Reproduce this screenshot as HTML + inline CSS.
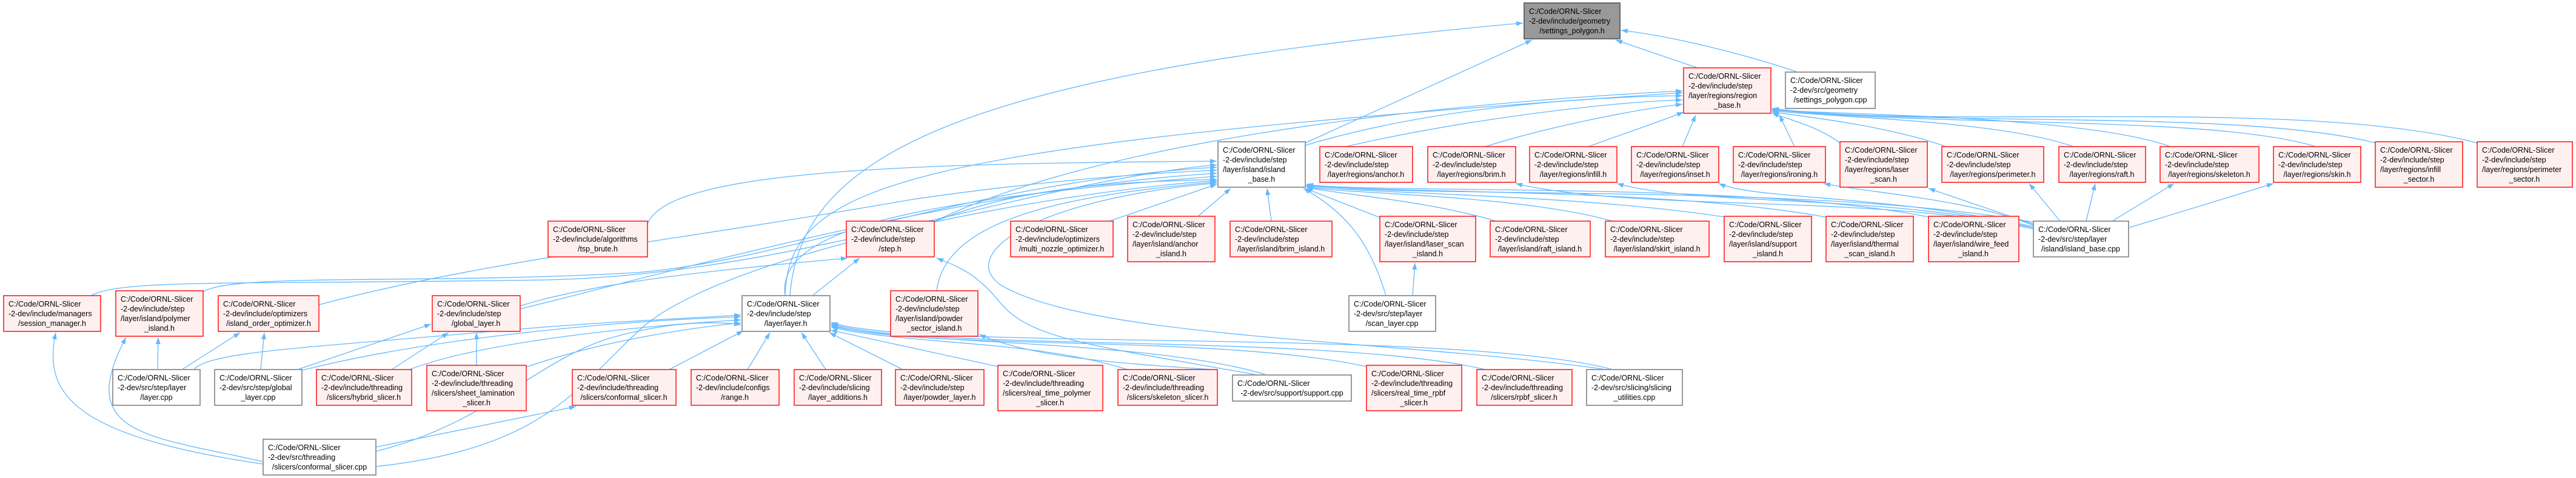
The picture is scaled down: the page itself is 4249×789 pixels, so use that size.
<!DOCTYPE html>
<html><head><meta charset="utf-8"><style>
html,body{margin:0;padding:0;background:#fff}
svg{display:block}
.t{font:12.5px "Liberation Sans",sans-serif;fill:#000}
.r{fill:#fff0f0;stroke:#ff2020;stroke-width:1.6}
.w{fill:#fff;stroke:#999;stroke-width:2}
.g{fill:#999;stroke:#666;stroke-width:2}
.e{fill:none;stroke:#63b8ff;stroke-width:1.3}
</style></head><body>
<svg width="4249" height="789" viewBox="0 0 4249 789" xmlns="http://www.w3.org/2000/svg">
<defs><marker id="a" markerWidth="11" markerHeight="8" refX="11" refY="4" orient="auto" markerUnits="userSpaceOnUse"><path d="M0,0 L11,4 L0,8z" fill="#63b8ff"/></marker></defs>
<g class="e" marker-end="url(#a)">
<!-- to settings_polygon.h -->
<path d="M2153,236 L2527,66"/>
<path d="M2800,112 L2665,66"/>
<path d="M2965,119 C2880,90 2760,60 2674,50"/>
<path d="M1303,488 C1320,250 1600,120 2512,38"/>
<!-- to region_base -->
<path d="M2153,240 C2350,180 2600,160 2775,158"/>
<path d="M1295,488 C1300,300 1500,240 2775,153"/>
<path d="M1540,366 C1800,240 2300,175 2775,150"/>
<path d="M2220,242 C2400,200 2650,168 2775,165"/>
<path d="M2450,242 C2550,210 2700,180 2775,172"/>
<path d="M2620,242 C2680,220 2740,200 2777,185"/>
<path d="M2775,242 L2797,190"/>
<path d="M2960,242 L2935,190"/>
<path d="M3035,236 C3000,210 2960,200 2923,187"/>
<path d="M3210,242 C3120,210 3000,195 2923,185"/>
<path d="M3420,242 C3300,200 3050,195 2923,183"/>
<path d="M3580,242 C3450,195 3100,190 2923,182"/>
<path d="M3820,242 C3650,190 3200,210 2923,181"/>
<path d="M3918,236 C3700,180 3200,210 2923,180"/>
<path d="M4086,236 C3800,160 3200,215 2923,179"/>
<!-- to island_base.h -->
<path d="M1068,370 C1100,280 1500,270 2007,266"/>
<path d="M150,488 C200,460 400,470 900,462 C1300,455 1700,300 2007,272"/>
<path d="M335,482 C380,450 700,470 1050,450 C1300,430 1600,300 2007,276"/>
<path d="M526,503 C800,430 1100,400 1500,330 C1700,300 1900,285 2007,281"/>
<path d="M858,510 C1100,450 1600,310 2007,286"/>
<path d="M1295,488 C1280,380 1500,330 2007,291"/>
<path d="M1541,366 C1700,300 1900,300 2007,296"/>
<path d="M1545,480 C1560,350 1800,320 2007,300"/>
<path d="M1830,365 L2007,304"/>
<path d="M1976,357 L2030,311"/>
<path d="M2097,365 L2090,311"/>
<path d="M2276,359 L2153,311"/>
<path d="M2468,365 C2350,330 2200,320 2155,309"/>
<path d="M2660,365 C2500,320 2200,320 2155,308"/>
<path d="M2850,359 C2600,320 2250,320 2155,307"/>
<path d="M3015,359 C2750,310 2300,320 2155,306"/>
<path d="M3185,359 C2900,300 2300,320 2155,305"/>
<path d="M3360,368 C3000,300 2300,330 2155,304"/>
<path d="M2286,488 C2260,400 2220,350 2150,311"/>
<path d="M2650,610 C2300,560 1800,560 1650,470 C1580,420 1700,330 2007,302"/>
<path d="M620,770 C900,740 950,640 1060,540 C1200,420 1700,320 2007,298"/>
<!-- to layer.h -->
<path d="M318,612 C340,580 500,575 800,548 C1000,530 1150,525 1222,520"/>
<path d="M495,612 C700,560 1000,530 1222,523"/>
<path d="M670,612 C800,560 1100,535 1222,528"/>
<path d="M868,606 C1000,560 1150,540 1222,533"/>
<path d="M1100,612 L1226,546"/>
<path d="M1233,610 L1270,549"/>
<path d="M1362,610 L1322,549"/>
<path d="M1489,610 L1368,549"/>
<path d="M1646,605 L1370,545"/>
<path d="M1860,610 C1700,560 1500,570 1371,540"/>
<path d="M2090,619 C1900,560 1500,570 1371,538"/>
<path d="M2254,605 C2000,550 1500,580 1371,536"/>
<path d="M2450,610 C2200,550 1500,580 1371,534"/>
<path d="M2660,610 C2400,540 1500,580 1371,532"/>
<path d="M620,745 C800,700 880,600 1000,560 C1100,530 1180,530 1222,536"/>
<!-- to step.h -->
<path d="M1340,488 L1418,426"/>
<path d="M858,505 C1000,460 1250,440 1398,426"/>
<path d="M2075,619 C1800,570 1700,560 1650,500 C1610,450 1580,440 1545,426"/>
<!-- to global_layer.h -->
<path d="M485,612 L711,535"/>
<path d="M643,612 L740,549"/>
<path d="M786,603 L786,549"/>
<!-- lower left -->
<path d="M300,610 L396,549"/>
<path d="M430,610 L436,549"/>
<path d="M260,610 L261,557"/>
<path d="M434,762 C250,720 120,720 208,557"/>
<path d="M434,766 C120,720 70,650 92,549"/>
<path d="M620,738 L950,671"/>
<path d="M2330,488 L2334,434"/>
<path d="M2000,610 C1850,600 1700,590 1615,552"/>
<!-- island_base.cpp -->
<path d="M3354,370 L3181,311"/>
<path d="M3398,365 L3347,303"/>
<path d="M3441,365 L3456,303"/>
<path d="M3484,365 L3586,303"/>
<path d="M3511,376 L3750,303"/>
<path d="M3354,372 C3250,330 3100,320 3008,303"/>
<path d="M3354,374 C3100,320 2900,330 2835,303"/>
<path d="M3354,376 C3100,320 2800,340 2667,303"/>
<path d="M3354,378 C3100,320 2700,350 2500,303"/>
</g>
<g>
<rect class="g" x="2514" y="5" width="158" height="59"/><text class="t" x="2522" y="23">C:/Code/ORNL-Slicer</text><text class="t" x="2522" y="39">-2-dev/include/geometry</text><text class="t" x="2593" y="55" text-anchor="middle">/settings_polygon.h</text>
<rect class="r" x="2777" y="112" width="144" height="75"/><text class="t" x="2785" y="130">C:/Code/ORNL-Slicer</text><text class="t" x="2785" y="146">-2-dev/include/step</text><text class="t" x="2785" y="162">/layer/regions/region</text><text class="t" x="2849" y="178" text-anchor="middle">_base.h</text>
<rect class="w" x="2945" y="119" width="148" height="60"/><text class="t" x="2953" y="137">C:/Code/ORNL-Slicer</text><text class="t" x="2953" y="153">-2-dev/src/geometry</text><text class="t" x="3019" y="169" text-anchor="middle">/settings_polygon.cpp</text>
<rect class="w" x="2009" y="234" width="144" height="75"/><text class="t" x="2017" y="252">C:/Code/ORNL-Slicer</text><text class="t" x="2017" y="268">-2-dev/include/step</text><text class="t" x="2017" y="284">/layer/island/island</text><text class="t" x="2081" y="300" text-anchor="middle">_base.h</text>
<rect class="r" x="2177" y="242" width="153" height="59"/><text class="t" x="2185" y="260">C:/Code/ORNL-Slicer</text><text class="t" x="2185" y="276">-2-dev/include/step</text><text class="t" x="2253" y="292" text-anchor="middle">/layer/regions/anchor.h</text>
<rect class="r" x="2355" y="242" width="145" height="59"/><text class="t" x="2363" y="260">C:/Code/ORNL-Slicer</text><text class="t" x="2363" y="276">-2-dev/include/step</text><text class="t" x="2427" y="292" text-anchor="middle">/layer/regions/brim.h</text>
<rect class="r" x="2523" y="242" width="144" height="59"/><text class="t" x="2531" y="260">C:/Code/ORNL-Slicer</text><text class="t" x="2531" y="276">-2-dev/include/step</text><text class="t" x="2595" y="292" text-anchor="middle">/layer/regions/infill.h</text>
<rect class="r" x="2691" y="242" width="144" height="59"/><text class="t" x="2699" y="260">C:/Code/ORNL-Slicer</text><text class="t" x="2699" y="276">-2-dev/include/step</text><text class="t" x="2763" y="292" text-anchor="middle">/layer/regions/inset.h</text>
<rect class="r" x="2859" y="242" width="152" height="59"/><text class="t" x="2867" y="260">C:/Code/ORNL-Slicer</text><text class="t" x="2867" y="276">-2-dev/include/step</text><text class="t" x="2935" y="292" text-anchor="middle">/layer/regions/ironing.h</text>
<rect class="r" x="3035" y="234" width="144" height="75"/><text class="t" x="3043" y="252">C:/Code/ORNL-Slicer</text><text class="t" x="3043" y="268">-2-dev/include/step</text><text class="t" x="3043" y="284">/layer/regions/laser</text><text class="t" x="3107" y="300" text-anchor="middle">_scan.h</text>
<rect class="r" x="3203" y="242" width="168" height="59"/><text class="t" x="3211" y="260">C:/Code/ORNL-Slicer</text><text class="t" x="3211" y="276">-2-dev/include/step</text><text class="t" x="3287" y="292" text-anchor="middle">/layer/regions/perimeter.h</text>
<rect class="r" x="3396" y="242" width="143" height="59"/><text class="t" x="3404" y="260">C:/Code/ORNL-Slicer</text><text class="t" x="3404" y="276">-2-dev/include/step</text><text class="t" x="3467" y="292" text-anchor="middle">/layer/regions/raft.h</text>
<rect class="r" x="3563" y="242" width="163" height="59"/><text class="t" x="3571" y="260">C:/Code/ORNL-Slicer</text><text class="t" x="3571" y="276">-2-dev/include/step</text><text class="t" x="3644" y="292" text-anchor="middle">/layer/regions/skeleton.h</text>
<rect class="r" x="3750" y="242" width="144" height="59"/><text class="t" x="3758" y="260">C:/Code/ORNL-Slicer</text><text class="t" x="3758" y="276">-2-dev/include/step</text><text class="t" x="3822" y="292" text-anchor="middle">/layer/regions/skin.h</text>
<rect class="r" x="3918" y="234" width="144" height="75"/><text class="t" x="3926" y="252">C:/Code/ORNL-Slicer</text><text class="t" x="3926" y="268">-2-dev/include/step</text><text class="t" x="3926" y="284">/layer/regions/infill</text><text class="t" x="3990" y="300" text-anchor="middle">_sector.h</text>
<rect class="r" x="4086" y="234" width="157" height="75"/><text class="t" x="4094" y="252">C:/Code/ORNL-Slicer</text><text class="t" x="4094" y="268">-2-dev/include/step</text><text class="t" x="4094" y="284">/layer/regions/perimeter</text><text class="t" x="4164" y="300" text-anchor="middle">_sector.h</text>

<rect class="r" x="904" y="365" width="164" height="59"/><text class="t" x="912" y="383">C:/Code/ORNL-Slicer</text><text class="t" x="912" y="399">-2-dev/include/algorithms</text><text class="t" x="986" y="415" text-anchor="middle">/tsp_brute.h</text>
<rect class="r" x="1396" y="365" width="145" height="59"/><text class="t" x="1404" y="383">C:/Code/ORNL-Slicer</text><text class="t" x="1404" y="399">-2-dev/include/step</text><text class="t" x="1468" y="415" text-anchor="middle">/step.h</text>
<rect class="r" x="1667" y="365" width="169" height="59"/><text class="t" x="1675" y="383">C:/Code/ORNL-Slicer</text><text class="t" x="1675" y="399">-2-dev/include/optimizers</text><text class="t" x="1751" y="415" text-anchor="middle">/multi_nozzle_optimizer.h</text>
<rect class="r" x="1860" y="357" width="144" height="75"/><text class="t" x="1868" y="375">C:/Code/ORNL-Slicer</text><text class="t" x="1868" y="391">-2-dev/include/step</text><text class="t" x="1868" y="407">/layer/island/anchor</text><text class="t" x="1932" y="423" text-anchor="middle">_island.h</text>
<rect class="r" x="2029" y="365" width="168" height="59"/><text class="t" x="2037" y="383">C:/Code/ORNL-Slicer</text><text class="t" x="2037" y="399">-2-dev/include/step</text><text class="t" x="2113" y="415" text-anchor="middle">/layer/island/brim_island.h</text>
<rect class="r" x="2276" y="357" width="158" height="75"/><text class="t" x="2284" y="375">C:/Code/ORNL-Slicer</text><text class="t" x="2284" y="391">-2-dev/include/step</text><text class="t" x="2284" y="407">/layer/island/laser_scan</text><text class="t" x="2355" y="423" text-anchor="middle">_island.h</text>
<rect class="r" x="2458" y="365" width="165" height="59"/><text class="t" x="2466" y="383">C:/Code/ORNL-Slicer</text><text class="t" x="2466" y="399">-2-dev/include/step</text><text class="t" x="2540" y="415" text-anchor="middle">/layer/island/raft_island.h</text>
<rect class="r" x="2648" y="365" width="171" height="59"/><text class="t" x="2656" y="383">C:/Code/ORNL-Slicer</text><text class="t" x="2656" y="399">-2-dev/include/step</text><text class="t" x="2733" y="415" text-anchor="middle">/layer/island/skirt_island.h</text>
<rect class="r" x="2844" y="357" width="144" height="75"/><text class="t" x="2852" y="375">C:/Code/ORNL-Slicer</text><text class="t" x="2852" y="391">-2-dev/include/step</text><text class="t" x="2852" y="407">/layer/island/support</text><text class="t" x="2916" y="423" text-anchor="middle">_island.h</text>
<rect class="r" x="3012" y="357" width="144" height="75"/><text class="t" x="3020" y="375">C:/Code/ORNL-Slicer</text><text class="t" x="3020" y="391">-2-dev/include/step</text><text class="t" x="3020" y="407">/layer/island/thermal</text><text class="t" x="3084" y="423" text-anchor="middle">_scan_island.h</text>
<rect class="r" x="3181" y="357" width="149" height="75"/><text class="t" x="3189" y="375">C:/Code/ORNL-Slicer</text><text class="t" x="3189" y="391">-2-dev/include/step</text><text class="t" x="3189" y="407">/layer/island/wire_feed</text><text class="t" x="3255" y="423" text-anchor="middle">_island.h</text>
<rect class="w" x="3354" y="365" width="157" height="59"/><text class="t" x="3362" y="383">C:/Code/ORNL-Slicer</text><text class="t" x="3362" y="399">-2-dev/src/step/layer</text><text class="t" x="3432" y="415" text-anchor="middle">/island/island_base.cpp</text>

<rect class="r" x="6" y="488" width="160" height="59"/><text class="t" x="14" y="506">C:/Code/ORNL-Slicer</text><text class="t" x="14" y="522">-2-dev/include/managers</text><text class="t" x="86" y="538" text-anchor="middle">/session_manager.h</text>
<rect class="r" x="191" y="480" width="144" height="75"/><text class="t" x="199" y="498">C:/Code/ORNL-Slicer</text><text class="t" x="199" y="514">-2-dev/include/step</text><text class="t" x="199" y="530">/layer/island/polymer</text><text class="t" x="263" y="546" text-anchor="middle">_island.h</text>
<rect class="r" x="360" y="488" width="166" height="59"/><text class="t" x="368" y="506">C:/Code/ORNL-Slicer</text><text class="t" x="368" y="522">-2-dev/include/optimizers</text><text class="t" x="443" y="538" text-anchor="middle">/island_order_optimizer.h</text>
<rect class="r" x="713" y="488" width="145" height="59"/><text class="t" x="721" y="506">C:/Code/ORNL-Slicer</text><text class="t" x="721" y="522">-2-dev/include/step</text><text class="t" x="785" y="538" text-anchor="middle">/global_layer.h</text>
<rect class="w" x="1224" y="488" width="145" height="59"/><text class="t" x="1232" y="506">C:/Code/ORNL-Slicer</text><text class="t" x="1232" y="522">-2-dev/include/step</text><text class="t" x="1296" y="538" text-anchor="middle">/layer/layer.h</text>
<rect class="r" x="1469" y="480" width="144" height="75"/><text class="t" x="1477" y="498">C:/Code/ORNL-Slicer</text><text class="t" x="1477" y="514">-2-dev/include/step</text><text class="t" x="1477" y="530">/layer/island/powder</text><text class="t" x="1541" y="546" text-anchor="middle">_sector_island.h</text>
<rect class="w" x="2225" y="488" width="143" height="59"/><text class="t" x="2233" y="506">C:/Code/ORNL-Slicer</text><text class="t" x="2233" y="522">-2-dev/src/step/layer</text><text class="t" x="2296" y="538" text-anchor="middle">/scan_layer.cpp</text>

<rect class="w" x="186" y="610" width="144" height="59"/><text class="t" x="194" y="628">C:/Code/ORNL-Slicer</text><text class="t" x="194" y="644">-2-dev/src/step/layer</text><text class="t" x="258" y="660" text-anchor="middle">/layer.cpp</text>
<rect class="w" x="354" y="610" width="144" height="59"/><text class="t" x="362" y="628">C:/Code/ORNL-Slicer</text><text class="t" x="362" y="644">-2-dev/src/step/global</text><text class="t" x="426" y="660" text-anchor="middle">_layer.cpp</text>
<rect class="r" x="522" y="610" width="157" height="59"/><text class="t" x="530" y="628">C:/Code/ORNL-Slicer</text><text class="t" x="530" y="644">-2-dev/include/threading</text><text class="t" x="600" y="660" text-anchor="middle">/slicers/hybrid_slicer.h</text>
<rect class="r" x="704" y="603" width="164" height="75"/><text class="t" x="712" y="621">C:/Code/ORNL-Slicer</text><text class="t" x="712" y="637">-2-dev/include/threading</text><text class="t" x="712" y="653">/slicers/sheet_lamination</text><text class="t" x="786" y="669" text-anchor="middle">_slicer.h</text>
<rect class="r" x="944" y="610" width="171" height="59"/><text class="t" x="952" y="628">C:/Code/ORNL-Slicer</text><text class="t" x="952" y="644">-2-dev/include/threading</text><text class="t" x="1029" y="660" text-anchor="middle">/slicers/conformal_slicer.h</text>
<rect class="r" x="1140" y="610" width="145" height="59"/><text class="t" x="1148" y="628">C:/Code/ORNL-Slicer</text><text class="t" x="1148" y="644">-2-dev/include/configs</text><text class="t" x="1212" y="660" text-anchor="middle">/range.h</text>
<rect class="r" x="1310" y="610" width="144" height="59"/><text class="t" x="1318" y="628">C:/Code/ORNL-Slicer</text><text class="t" x="1318" y="644">-2-dev/include/slicing</text><text class="t" x="1382" y="660" text-anchor="middle">/layer_additions.h</text>
<rect class="r" x="1477" y="610" width="146" height="59"/><text class="t" x="1485" y="628">C:/Code/ORNL-Slicer</text><text class="t" x="1485" y="644">-2-dev/include/step</text><text class="t" x="1550" y="660" text-anchor="middle">/layer/powder_layer.h</text>
<rect class="r" x="1646" y="603" width="173" height="75"/><text class="t" x="1654" y="621">C:/Code/ORNL-Slicer</text><text class="t" x="1654" y="637">-2-dev/include/threading</text><text class="t" x="1654" y="653">/slicers/real_time_polymer</text><text class="t" x="1732" y="669" text-anchor="middle">_slicer.h</text>
<rect class="r" x="1844" y="610" width="164" height="59"/><text class="t" x="1852" y="628">C:/Code/ORNL-Slicer</text><text class="t" x="1852" y="644">-2-dev/include/threading</text><text class="t" x="1926" y="660" text-anchor="middle">/slicers/skeleton_slicer.h</text>
<rect class="w" x="2033" y="619" width="196" height="43"/><text class="t" x="2041" y="637">C:/Code/ORNL-Slicer</text><text class="t" x="2131" y="653" text-anchor="middle">-2-dev/src/support/support.cpp</text>
<rect class="r" x="2254" y="603" width="157" height="75"/><text class="t" x="2262" y="621">C:/Code/ORNL-Slicer</text><text class="t" x="2262" y="637">-2-dev/include/threading</text><text class="t" x="2262" y="653">/slicers/real_time_rpbf</text><text class="t" x="2332" y="669" text-anchor="middle">_slicer.h</text>
<rect class="r" x="2436" y="610" width="157" height="59"/><text class="t" x="2444" y="628">C:/Code/ORNL-Slicer</text><text class="t" x="2444" y="644">-2-dev/include/threading</text><text class="t" x="2514" y="660" text-anchor="middle">/slicers/rpbf_slicer.h</text>
<rect class="w" x="2617" y="610" width="158" height="59"/><text class="t" x="2625" y="628">C:/Code/ORNL-Slicer</text><text class="t" x="2625" y="644">-2-dev/src/slicing/slicing</text><text class="t" x="2696" y="660" text-anchor="middle">_utilities.cpp</text>

<rect class="w" x="434" y="725" width="186" height="59"/><text class="t" x="442" y="743">C:/Code/ORNL-Slicer</text><text class="t" x="442" y="759">-2-dev/src/threading</text><text class="t" x="527" y="775" text-anchor="middle">/slicers/conformal_slicer.cpp</text>
</g>
</svg>
</body></html>
